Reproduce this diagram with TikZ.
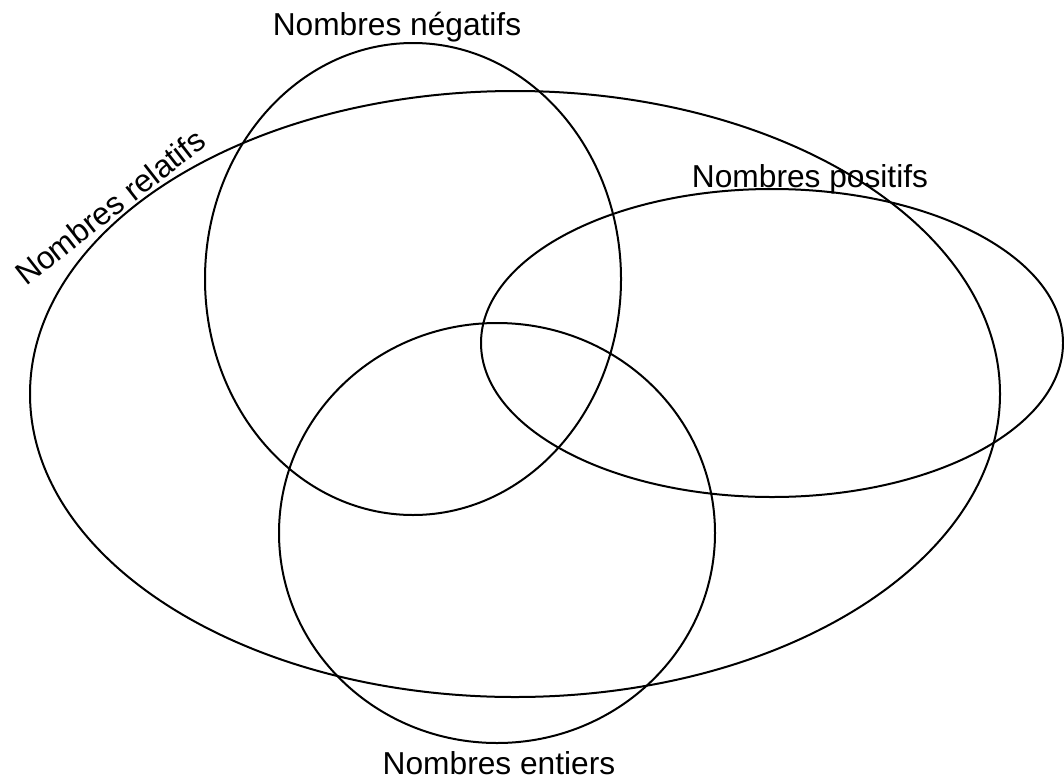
\documentclass[tikz,border=0pt]{standalone}
\usepackage{fontspec}
\setmainfont{Liberation Sans}
\begin{document}
\begin{tikzpicture}[x=1pt,y=-1pt,
  setline/.style={draw=black,line width=2pt},
  lbl/.style={font=\fontsize{31.7}{38}\selectfont,inner sep=0pt}]
\useasboundingbox (0,0) rectangle (1064,779);
\draw[setline] (515,394) ellipse [x radius=485,y radius=303];
\draw[setline] (413,279) ellipse [x radius=208,y radius=236];
\draw[setline] (772,343) ellipse [x radius=291,y radius=154];
\draw[setline] (497,533) ellipse [x radius=218,y radius=210];
\node[lbl,anchor=base] (neg) at (397,35) {Nombres négatifs};
\node[lbl,anchor=base] (pos) at (810,187) {Nombres positifs};
\node[lbl,anchor=base] (ent) at (499,774) {Nombres entiers};
\node[lbl,rotate=38] (rel) at (110,207) {Nombres relatifs};
\end{tikzpicture}
\end{document}
